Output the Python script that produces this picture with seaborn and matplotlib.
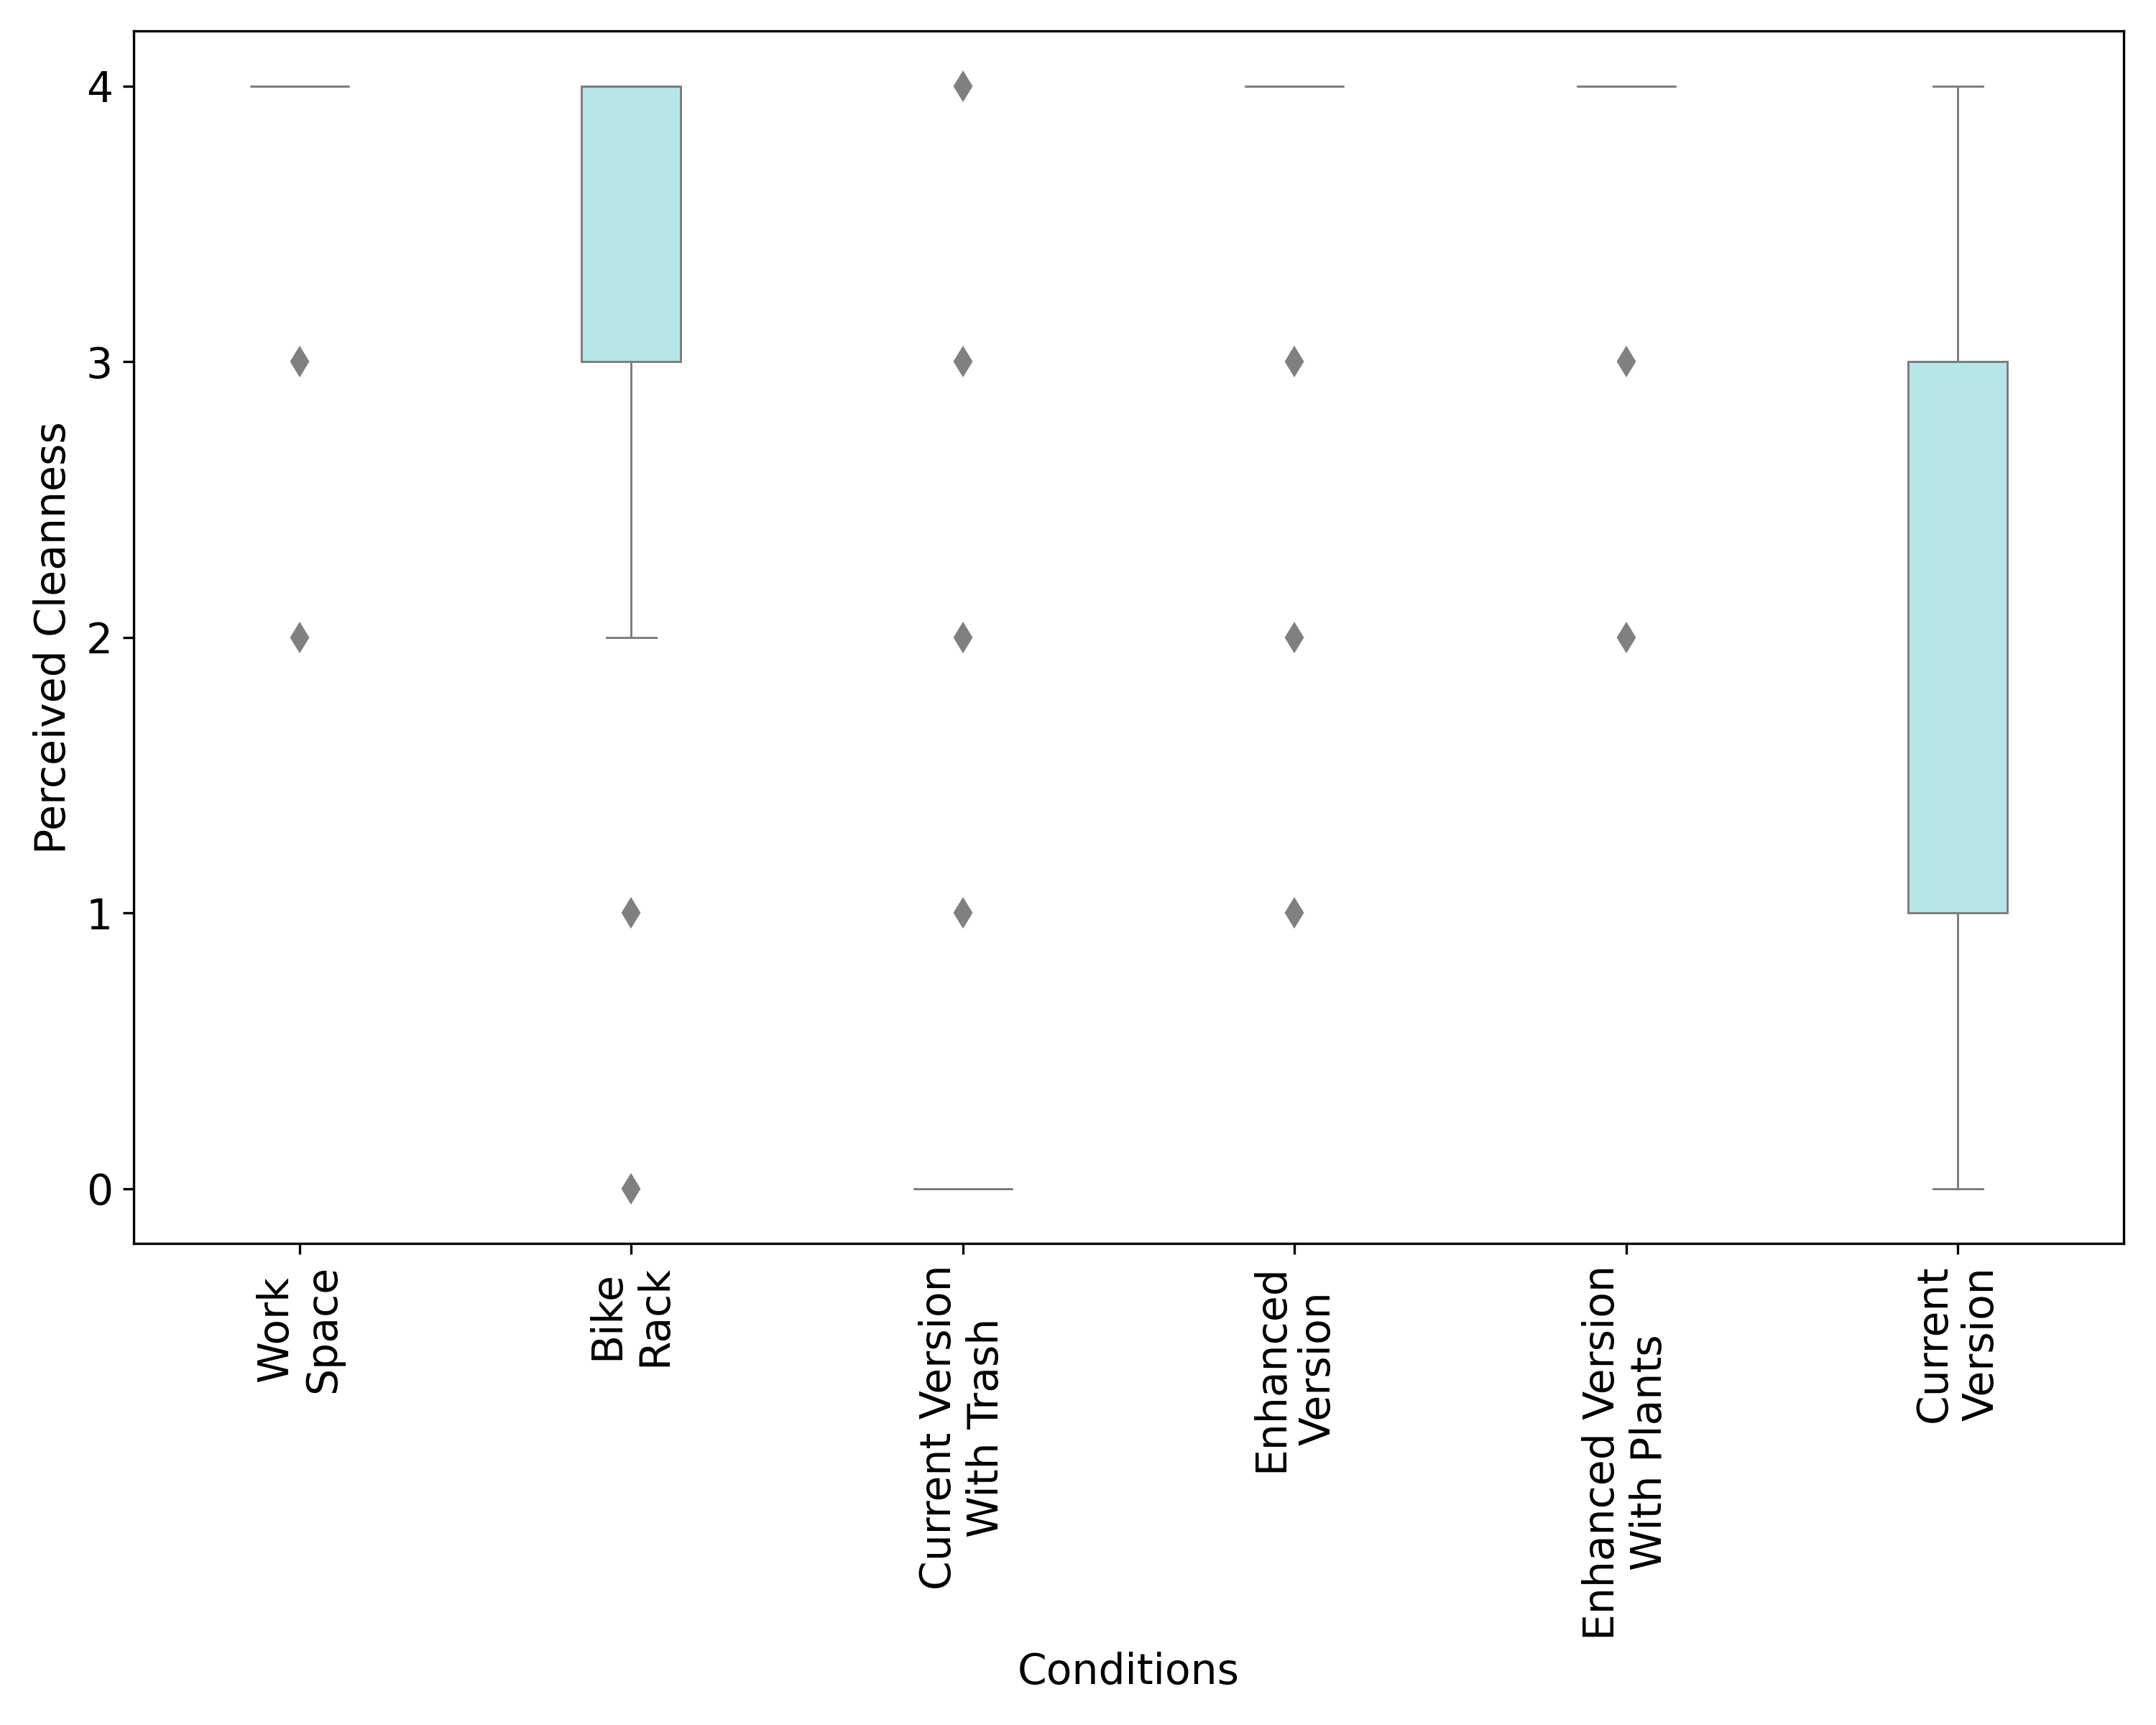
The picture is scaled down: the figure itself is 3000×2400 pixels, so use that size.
import numpy as np
import pandas as pd
import matplotlib
matplotlib.use("Agg")
import matplotlib.pyplot as plt
import seaborn as sns

# ── DATA (ratings per condition) ─────────────────────────────
conditions = ["Work\nSpace", "Bike\nRack", "Current Version\nWith Trash",
              "Enhanced\nVersion", "Enhanced Version\nWith Plants", "Current\nVersion"]

work_space       = [4, 4, 4, 4, 4, 4, 4, 4, 4, 4, 3, 2]
bike_rack        = [0, 1, 2, 3, 3, 3, 3, 4, 4, 4, 4, 4, 4, 4, 4]
current_trash    = [0, 0, 0, 0, 0, 0, 0, 0, 0, 0, 0, 0, 0, 0, 0, 0, 1, 2, 3, 4]
enhanced         = [4, 4, 4, 4, 4, 4, 4, 4, 4, 4, 4, 4, 3, 2, 1]
enhanced_plants  = [4, 4, 4, 4, 4, 4, 4, 4, 4, 4, 3, 2]
current_version  = [0, 1, 1, 1, 3, 3, 3, 3, 4]

series = [work_space, bike_rack, current_trash, enhanced, enhanced_plants, current_version]

rows = []
for cond, vals in zip(conditions, series):
    for v in vals:
        rows.append({"Conditions": cond, "Perceived Cleanness": v})
df = pd.DataFrame(rows)

# ── PLOT ─────────────────────────────────────────────────────
fig = plt.figure(figsize=(10, 8), dpi=300)
ax = fig.add_axes([0.062, 0.279, 0.923, 0.703])

sns.boxplot(data=df, x="Conditions", y="Perceived Cleanness", order=conditions,
            color="paleturquoise", saturation=0.75, width=0.3,
            linecolor="gray", linewidth=0.7, fliersize=6,
            flierprops={"marker": "d", "markerfacecolor": "gray",
                        "markeredgecolor": "gray"},
            ax=ax)

ax.set_ylim(-0.2, 4.2)
ax.set_yticks([0, 1, 2, 3, 4])
ax.tick_params(axis="both", labelsize=14)
plt.setp(ax.get_xticklabels(), rotation=90)
ax.set_xlabel("Conditions", fontsize=14)
ax.set_ylabel("Perceived Cleanness", fontsize=14)

fig.savefig("out.png", dpi=300)
